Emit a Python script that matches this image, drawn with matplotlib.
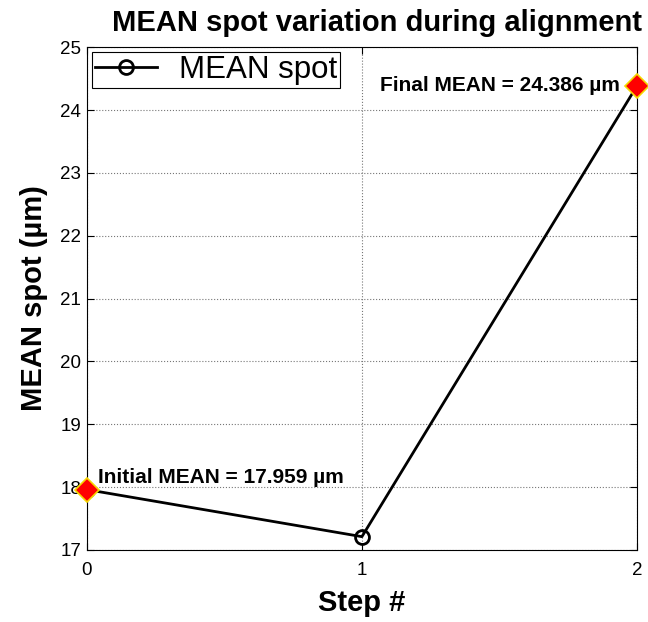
import matplotlib
matplotlib.use("Agg")
import matplotlib.pyplot as plt

steps = [0, 1, 2]
mean_spot = [17.959, 17.21, 24.386]
x_ticks = [0, 1, 2]
y_ticks = [17, 18, 19, 20, 21, 22, 23, 24, 25]

plt.rcParams['font.family'] = ['Liberation Sans', 'DejaVu Sans']

fig = plt.figure(figsize=(6.48, 6.22), dpi=100)
ax = fig.add_axes([0.134, 0.116, 0.849, 0.808])

ax.plot(steps, mean_spot, color='black', lw=2, marker='o', markersize=10,
        markerfacecolor='none', markeredgewidth=2, label='MEAN spot')

# first / last points highlighted
ax.plot([steps[0], steps[-1]], [mean_spot[0], mean_spot[-1]], ls='none', marker='D',
        markersize=12, markerfacecolor='red', markeredgecolor='#f5d800',
        markeredgewidth=1.2, clip_on=False, zorder=5)

ax.text(steps[0] + 0.04, mean_spot[0] + 0.04, 'Initial MEAN = %.3f µm' % mean_spot[0],
        fontsize=15, fontweight='bold', ha='left', va='bottom')
ax.text(steps[-1] - 0.062, mean_spot[-1], 'Final MEAN = %.3f µm' % mean_spot[-1],
        fontsize=15, fontweight='bold', ha='right', va='center')

ax.set_xlim(0, 2)
ax.set_ylim(17, 25)
ax.set_xticks(x_ticks)
ax.set_yticks(y_ticks)
ax.tick_params(direction='in', top=True, right=True, labelsize=13.5, length=5)
ax.tick_params(axis='x', pad=9)
ax.tick_params(axis='y', pad=4)
ax.grid(True, ls=':', color='#777777', lw=0.8)

ax.set_title('MEAN spot variation during alignment', fontsize=21, fontweight='bold',
             pad=12, x=0.527)
ax.set_xlabel('Step #', fontsize=21, fontweight='bold', labelpad=7)
ax.set_ylabel('MEAN spot (µm)', fontsize=21, fontweight='bold', labelpad=9)

leg = ax.legend(loc='upper left', fontsize=22.5, fancybox=False, edgecolor='black',
                handlelength=2.0, borderpad=0.1, handletextpad=0.7,
                borderaxespad=0.15, framealpha=1)
leg.get_frame().set_linewidth(0.8)

fig.savefig('out.png', dpi=100)
